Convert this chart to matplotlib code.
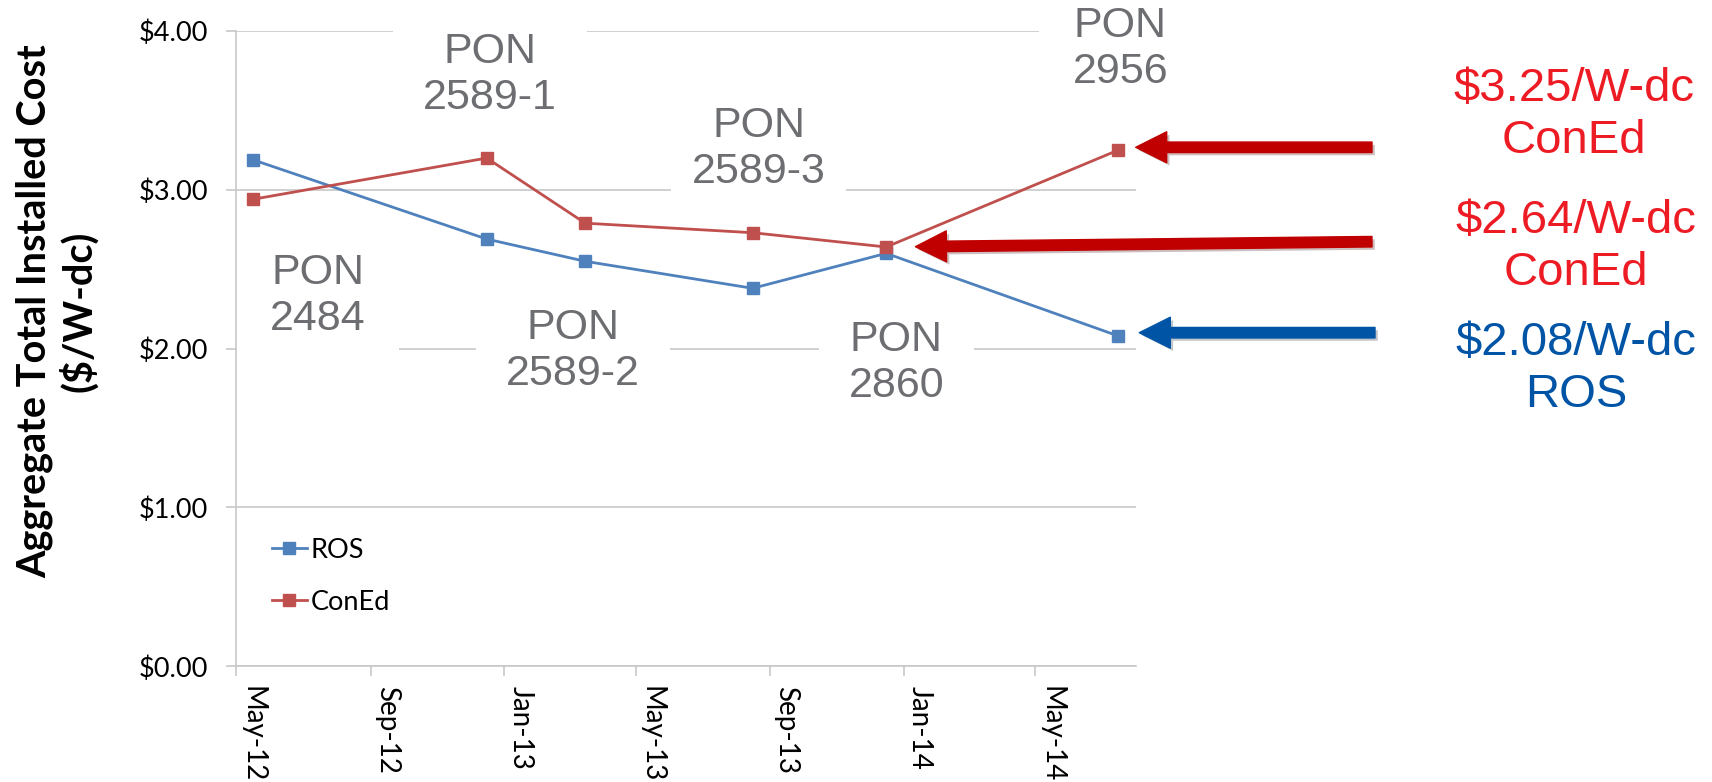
import matplotlib
matplotlib.use("Agg")
from matplotlib import pyplot as plt
import matplotlib.dates as mdates
import matplotlib.patheffects as pe
from matplotlib.transforms import ScaledTranslation
import numpy as np
#
# data
# -----------------------
#
dates = ['2012-05-16', '2012-12-16', '2013-03-16', '2013-08-16',
         '2013-12-16', '2014-07-16']
ros = [3.19, 2.69, 2.55, 2.38, 2.60, 2.08]
coned = [2.94, 3.20, 2.79, 2.73, 2.64, 3.25]

pon_labels = ['PON\n2484', 'PON\n2589-1', 'PON\n2589-2', 'PON\n2589-3',
              'PON\n2860', 'PON\n2956']
callouts = ['$3.25/W-dc\nConEd', '$2.64/W-dc\nConEd', '$2.08/W-dc\nROS']
#
# colours
# -------
#
blue = '#4f81bd'
red = '#c0504d'
grid = '#c8c8c8'
gray_txt = '#6d6e71'

x = np.array(dates, dtype='datetime64[D]')

W, H = 1712, 782
fig = plt.figure(figsize=(W / 100, H / 100), dpi=100)
ax = fig.add_axes([236.1 / W, 1 - 666.3 / H, 899.6 / W, 635.3 / H])
#
# the two series
# --------------
#
ax.plot(x, ros, color=blue, lw=2.0, marker='s', ms=9.3, mec=blue,
        label='ROS', zorder=3)
ax.plot(x, coned, color=red, lw=2.0, marker='s', ms=9.3, mec=red,
        label='ConEd', zorder=3)
#
# axes look
# ---------
#
ax.set_ylim(0, 4)
ax.set_xlim(np.datetime64('2012-05-01'), np.datetime64('2014-08-01'))
ax.set_yticks([0, 1, 2, 3, 4])
ax.yaxis.set_major_formatter(plt.FuncFormatter(lambda v, p: '$%.2f' % v))
ax.xaxis.set_major_locator(mdates.MonthLocator(bymonth=[1, 5, 9]))
ax.xaxis.set_major_formatter(mdates.DateFormatter('%b-%y'))
ax.grid(axis='y', color=grid, lw=1.2)
ax.set_axisbelow(True)
for s in ['top', 'right']:
    ax.spines[s].set_visible(False)
for s in ['left', 'bottom']:
    ax.spines[s].set_color(grid)
    ax.spines[s].set_linewidth(1.2)
ax.tick_params(axis='both', color=grid, width=1.2, length=7.2,
               labelcolor='black')
ax.tick_params(axis='y', pad=13, labelsize=19.5)
ax.tick_params(axis='x', pad=7, labelsize=20)
for lab in ax.get_yticklabels():
    lab.set_fontfamily('Lato')
for lab in ax.get_xticklabels():
    lab.set_fontfamily('Lato')
    lab.set_rotation(-90)
    lab.set_ha('center')
    lab.set_va('top')
    lab.set_transform(lab.get_transform() +
                      ScaledTranslation(0.16, 0, fig.dpi_scale_trans))

fig.text(57 / W, 1 - 311 / H, 'Aggregate Total Installed Cost\n($/W-dc)',
         rotation=90, ha='center', va='center', multialignment='center',
         fontsize=28.5, fontweight='bold', family='Lato', linespacing=1.15)

leg = ax.legend(loc='center left', bbox_to_anchor=(0.0396, 0.1418),
                frameon=False, prop={'family': 'Lato', 'size': 19.5},
                borderpad=0, borderaxespad=0, handlelength=1.3,
                handletextpad=0.15, labelspacing=1.0)
#
# PON text boxes, white boxes hide the gridlines behind them
# ----------------------------------------------------------
#
pon_pos = [(0.0906, 0.583), (0.2823, 0.931), (0.3745, 0.496),
           (0.5810, 0.814), (0.7341, 0.477), (0.9830, 0.972)]
pon_pad = [0.78, 0.7, 0.7, 0.48, 0.7, 0.78]
for t, (px, py), pd in zip(pon_labels, pon_pos, pon_pad):
    ax.text(px, py, t, transform=ax.transAxes, ha='center', va='center',
            fontsize=31, color=gray_txt, family='Liberation Sans',
            linespacing=1.2, zorder=2.2,
            bbox=dict(facecolor='white', edgecolor='none', pad=pd * 31))
#
# arrows and call-outs on the right
# ---------------------------------
#
arrows = [((1135.7, 147.3), (1372, 147.3), '#c00000'),
          ((915.4, 246.7), (1372, 241.7), '#c00000'),
          ((1139.3, 332.7), (1375, 332.7), '#0054a6')]
for tip, tail, c in arrows:
    ax.annotate('', xy=(tip[0] / W, 1 - tip[1] / H),
                xytext=(tail[0] / W, 1 - tail[1] / H),
                xycoords='figure fraction', textcoords='figure fraction',
                arrowprops=dict(arrowstyle='simple,head_length=3.1,head_width=3.1,tail_width=1.05',
                                mutation_scale=7.2, color=c, shrinkA=0, shrinkB=0,
                                path_effects=[pe.SimplePatchShadow(offset=(2, -2), alpha=0.25),
                                              pe.Normal()]),
                annotation_clip=False)

call_pos = [(1574, 115), (1576, 247), (1576, 369)]
call_col = ['#ed1c24', '#ed1c24', '#0054a6']
for t, (px, py), c in zip(callouts, call_pos, call_col):
    fig.text(px / W, 1 - py / H, t, ha='center', va='center',
             multialignment='center', fontsize=34, color=c,
             family='Liberation Sans', linespacing=1.22)

fig.savefig('out.png', dpi=100)
